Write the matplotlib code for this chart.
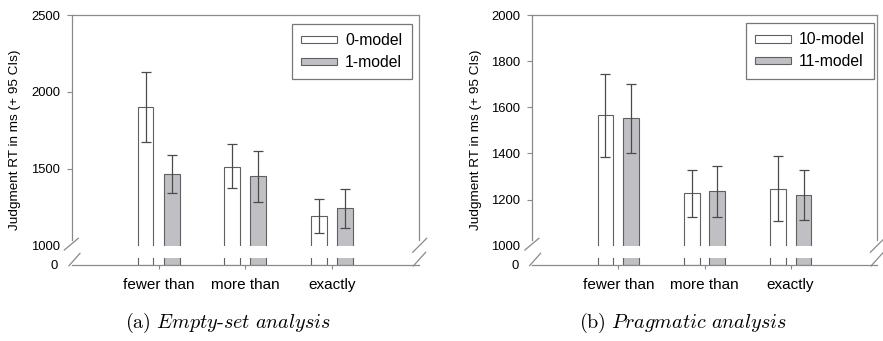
import numpy as np
import matplotlib
matplotlib.use("Agg")
import matplotlib.pyplot as plt
from matplotlib.lines import Line2D

plt.rcParams['font.family'] = ['Liberation Sans', 'DejaVu Sans']
plt.rcParams['mathtext.fontset'] = 'cm'

groups = ["fewer than", "more than", "exactly"]

# (a) empty-set analysis
a_names = ["0-model", "1-model"]
a_mean_0 = [1900, 1512, 1193]
a_lo_0 = [1676, 1373, 1081]
a_hi_0 = [2127, 1659, 1306]
a_mean_1 = [1463, 1453, 1243]
a_lo_1 = [1343, 1286, 1117]
a_hi_1 = [1592, 1618, 1367]

# (b) pragmatic analysis
b_names = ["10-model", "11-model"]
b_mean_10 = [1565, 1230, 1246]
b_lo_10 = [1384, 1126, 1106]
b_hi_10 = [1744, 1329, 1387]
b_mean_11 = [1552, 1236, 1218]
b_lo_11 = [1400, 1126, 1110]
b_hi_11 = [1702, 1344, 1327]

SPINE = '#8a8a8a'
EDGE = '#606060'
W, H = 883, 341

fig = plt.figure(figsize=(W / 100, H / 100), dpi=100)


def slash(ax, fx, fy, x0, y0, x1, y1):
    # break mark, endpoints as pixel offsets from an axes-fraction point
    px, py = ax.transAxes.transform((fx, fy))
    inv = fig.transFigure.inverted()
    p0 = inv.transform((px + x0, py + y0))
    p1 = inv.transform((px + x1, py + y1))
    fig.add_artist(Line2D([p0[0], p1[0]], [p0[1], p1[1]], color=SPINE, lw=0.9))


def panel(left, width, means, los, his, names, ylim, yticks, cap, cap_x, lg_anchor, ylab_x):
    top = fig.add_axes([left, 0.2795, width, 0.6765])
    bot = fig.add_axes([left, 0.2229, width, 0.0205])
    x = np.arange(1, 4)
    offs = [-0.15, 0.15]
    faces = ['white', '#c0c0c4']
    for ax in (top, bot):
        for i in range(2):
            ax.bar(x + offs[i], means[i], width=0.184, color=faces[i],
                   edgecolor=EDGE, linewidth=0.8, label=names[i])
        ax.set_xlim(0, 4)
    for i in range(2):
        m = np.array(means[i])
        err = [m - np.array(los[i]), np.array(his[i]) - m]
        top.errorbar(x + offs[i], m, yerr=err, fmt='none', ecolor='#4a4a4a',
                     elinewidth=0.9, capsize=3.8, capthick=0.9)

    top.set_ylim(*ylim)
    top.set_yticks(yticks)
    top.tick_params(axis='x', bottom=False, labelbottom=False)
    top.tick_params(axis='y', direction='out', length=3.5, color=SPINE,
                    labelsize=9.4, pad=5)
    top.yaxis.get_major_ticks()[0].tick1line.set_visible(False)
    cut = ylim[0] + 6 / 230.7 * (ylim[1] - ylim[0])
    top.spines['bottom'].set_visible(False)
    for s in ('left', 'right'):
        top.spines[s].set_bounds(cut, ylim[1])
    for s in top.spines.values():
        s.set_color(SPINE)
        s.set_linewidth(0.9)

    bot.set_ylim(0, 100)
    bot.set_yticks([0])
    bot.set_xticks(x)
    bot.set_xticklabels(groups)
    bot.tick_params(axis='y', length=0, labelsize=9.4, pad=10)
    bot.tick_params(axis='x', direction='out', length=3, color=SPINE,
                    labelsize=11, pad=6.5)
    for s in ('top', 'left', 'right'):
        bot.spines[s].set_visible(False)
    bot.spines['bottom'].set_color(SPINE)
    bot.spines['bottom'].set_linewidth(0.9)

    leg = top.legend(loc='upper right', bbox_to_anchor=lg_anchor, borderaxespad=0,
                     fontsize=11.3, fancybox=False, handlelength=2.3,
                     handleheight=0.35, handletextpad=0.5, labelspacing=0.42,
                     borderpad=0.6)
    leg.get_frame().set_edgecolor('#555555')
    leg.get_frame().set_linewidth(0.9)

    slash(top, 0, 0, -7.4, -4.3, 6.6, 7.4)
    slash(bot, 0, 0, -2.7, -0.7, 8.3, 11.7)
    slash(top, 1, 0, -6.3, -6.6, 7.7, 7.4)
    slash(bot, 1, 0, -5.7, -1.0, 6.7, 12.7)

    fig.text(ylab_x / W, 1 - 140 / H, "Judgment RT in ms (+ 95 CIs)",
             rotation=90, ha='center', va='center', fontsize=9.7)
    fig.text(cap_x / W, 1 - 323 / H, cap, ha='center', va='center', fontsize=14.5)


panel(71.7 / W, 347.3 / W, [a_mean_0, a_mean_1], [a_lo_0, a_lo_1], [a_hi_0, a_hi_1],
      a_names, (1000, 2500), [1000, 1500, 2000, 2500],
      r"$\mathrm{(a)}\ \mathit{Empty}\text{-}\mathit{set\ analysis}$", 228,
      (0.979, 0.961), 15)
panel(532.3 / W, 344.4 / W, [b_mean_10, b_mean_11], [b_lo_10, b_lo_11], [b_hi_10, b_hi_11],
      b_names, (1000, 2000), [1000, 1200, 1400, 1600, 1800, 2000],
      r"$\mathrm{(b)}\ \mathit{Pragmatic\ analysis}$", 683,
      (0.993, 0.965), 476)

fig.savefig("out.png", dpi=100)
